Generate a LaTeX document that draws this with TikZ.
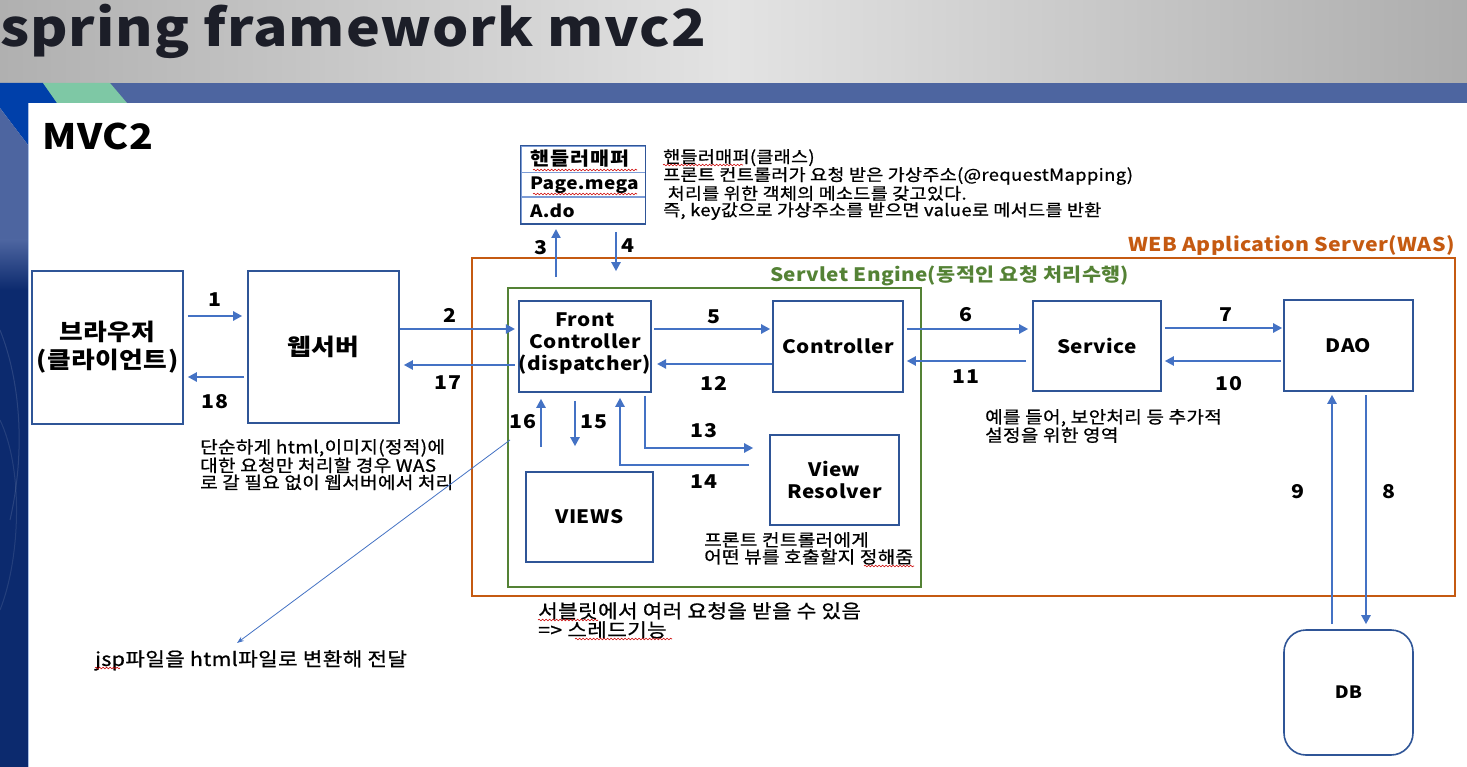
\documentclass[tikz,border=0pt]{standalone}
\usepackage{fontspec}
\setmainfont{Noto Sans CJK KR}[FakeStretch=1.12,LetterSpace=2]
\newfontfamily\notefont{Noto Sans CJK KR}[FakeStretch=1.12,LetterSpace=2,FakeBold=0.8]
\usetikzlibrary{arrows.meta,positioning,calc,decorations.pathmorphing}
\definecolor{boxblue}{RGB}{47,85,151}
\definecolor{arrblue}{RGB}{68,114,196}
\definecolor{wasorange}{RGB}{197,90,17}
\definecolor{engreen}{RGB}{84,130,53}
\definecolor{bandblue}{RGB}{77,101,160}
\definecolor{deepblue}{RGB}{0,64,170}
\definecolor{navyblue}{RGB}{12,42,110}
\definecolor{mint}{RGB}{126,200,165}
\definecolor{titleink}{RGB}{28,30,40}
\tikzset{
  blk/.style={draw=boxblue,line width=1.6pt,fill=white,align=center,inner sep=0pt,
    font=\bfseries\fontsize{18.5}{22}\selectfont},
  row/.style={draw=arrblue!70,line width=0.8pt,minimum width=124pt,text width=106pt,
    align=left,inner sep=0pt,font=\bfseries\fontsize{17}{17}\selectfont},
  arr/.style={draw=arrblue,line width=2.5pt,-{Triangle[length=9pt,width=9pt]}},
  num/.style={inner sep=0pt,font=\bfseries\fontsize{19}{19}\selectfont},
  note/.style={anchor=north west,align=left,inner sep=0pt,font=\notefont\fontsize{16.5}{16.5}\selectfont},
  squig/.style={draw=red!80!black,line width=0.6pt,decorate,
    decoration={snake,amplitude=0.8pt,segment length=3.5pt}},
}

\begin{document}
\begin{tikzpicture}[x=1pt,y=-1pt]
\useasboundingbox (0,0) rectangle (1467,767);
% slide background
\shade[left color=gray!62,right color=gray!64,middle color=gray!22] (0,0) rectangle (1467,83);
\fill[bandblue] (0,83) rectangle (1467,103);
\fill[deepblue] (0,83) -- (43,83) -- (57,103) -- (28,103) -- (28,145) -- (0,108) -- cycle;
\fill[mint] (43,83) -- (110,83) -- (127,103) -- (57,103) -- cycle;
\fill[bandblue] (0,108) -- (28,145) -- (28,240) -- (0,240) -- cycle;
\shade[top color=bandblue,bottom color=navyblue] (0,240) rectangle (28,290);
\fill[navyblue] (0,290) rectangle (28,767);
\draw[white,opacity=0.12,line width=1pt] (0,330) .. controls (20,380) and (26,450) .. (10,520);
\draw[white,opacity=0.10,line width=1pt] (0,420) .. controls (24,470) and (20,560) .. (0,610);
\fill[white] (28,103) rectangle (1467,767);
\draw[arrblue!45,line width=0.8pt] (28,103) -- (28,767);

% titles
\node[anchor=base west,inner sep=0pt,text=titleink,font=\bfseries\fontsize{51}{51}\selectfont]
  (ttl) at (0,47) {spring framework mvc2};
\node[anchor=base west,inner sep=0pt,font=\bfseries\fontsize{35}{35}\selectfont]
  (mvc) at (42,150) {MVC2};

% WAS and servlet engine
\node[draw=wasorange,line width=1.8pt,minimum width=983pt,minimum height=338pt] (was) at (963.5,427) {};
\node[anchor=base east,inner sep=0pt,text=wasorange,font=\bfseries\fontsize{19}{19}\selectfont]
  (waslbl) at (1455,252) {WEB Application Server(WAS)};
\node[draw=engreen,line width=1.8pt,minimum width=413pt,minimum height=299pt] (eng) at (714.5,437.5) {};
\node[anchor=base west,inner sep=0pt,text=engreen,font=\bfseries\fontsize{18.5}{18.5}\selectfont]
  (englbl) at (770,282) {Servlet Engine(동적인 요청 처리수행)};

% boxes
\node[blk,minimum width=151pt,minimum height=153pt,font=\bfseries\fontsize{23}{28}\selectfont]
  (browser) at (107.5,347.5) {브라우저\\(클라이언트)};
\node[blk,minimum width=151pt,minimum height=152pt,font=\bfseries\fontsize{23}{28}\selectfont]
  (websrv) at (323.5,347) {웹서버};
\node[blk,minimum width=128pt,minimum height=91pt] (front) at (585,346.5) {Front\\Controller\\(dispatcher)\\[-12pt]};
\node[blk,minimum width=130pt,minimum height=91pt] (ctrl) at (838,346.5) {Controller};
\node[blk,minimum width=128pt,minimum height=90pt] (service) at (1097,346) {Service};
\node[blk,minimum width=129pt,minimum height=91pt] (dao) at (1348.5,345.5) {DAO};
\node[blk,minimum width=129pt,minimum height=90pt] (resolver) at (834.5,480) {View\\Resolver};
\node[blk,minimum width=127pt,minimum height=90pt] (views) at (589.5,517) {VIEWS};
\node[blk,minimum width=129pt,minimum height=125pt,rounded corners=22pt,font=\bfseries\fontsize{17}{17}\selectfont]
  (db) at (1348.5,692.5) {DB};

% handler mapper table
\node[row,minimum height=26pt,font=\bfseries\fontsize{18.5}{18.5}\selectfont\addfontfeatures{LetterSpace=6}]
  (hm1) at (583,159) {핸들러매퍼};
\node[row,minimum height=24pt,below=0pt of hm1] (hm2) {Page.mega};
\node[row,minimum height=26pt,below=0pt of hm2] (hm3) {A.do};
\draw[boxblue,line width=1.6pt] (hm1.north west) rectangle (hm3.south east);

% request / response flow
\draw[arr] ([xshift=4pt,yshift=31.5pt]browser.east) -- ([xshift=-5pt,yshift=31pt]websrv.west);
\draw[arr] ([xshift=-3pt,yshift=-30pt]websrv.west) -- ([xshift=4pt,yshift=-29.5pt]browser.east);
\draw[arr] ([yshift=18pt]websrv.east) -- ([xshift=-3pt,yshift=17.5pt]front.west);
\draw[arr] ([xshift=-3pt,yshift=-18.5pt]front.west) -- ([xshift=4pt,yshift=-18pt]websrv.east);
\draw[arr] ([xshift=-29pt,yshift=23pt]front.north) -- ([xshift=-27pt,yshift=-5pt]hm3.south);
\draw[arr] ([xshift=33pt,yshift=-8pt]hm3.south) -- ([xshift=31pt,yshift=29pt]front.north);
\draw[arr] ([xshift=2pt,yshift=17.5pt]front.east) -- ([xshift=-2pt,yshift=17.5pt]ctrl.west);
\draw[arr] ([yshift=-17.5pt]ctrl.west) -- ([xshift=5pt,yshift=-17.5pt]front.east);
\draw[arr] ([xshift=3pt,yshift=17.5pt]ctrl.east) -- ([xshift=-4pt,yshift=17pt]service.west);
\draw[arr] ([xshift=-6pt,yshift=-15pt]service.west) -- ([xshift=3pt,yshift=-14.5pt]ctrl.east);
\draw[arr] ([xshift=3pt,yshift=18pt]service.east) -- ([xshift=-1pt,yshift=17.5pt]dao.west);
\draw[arr] ([xshift=-2pt,yshift=-15.5pt]dao.west) -- ([xshift=3pt,yshift=-15pt]service.east);
\draw[arr] ([xshift=-16.5pt,yshift=5pt]db.north) -- ([xshift=-16.5pt,yshift=-3pt]dao.south);
\draw[arr] ([xshift=17.5pt,yshift=-3pt]dao.south) -- ([xshift=17.5pt,yshift=5pt]db.north);
\draw[arr] ([xshift=-44pt,yshift=-54pt]front.south) -- ([xshift=-44pt,yshift=-6pt]front.south);
\draw[arr] ([xshift=-10pt,yshift=-8pt]front.south) -- ([xshift=-14.5pt,yshift=25pt]views.north);
\draw[arr] ([xshift=60pt,yshift=-3pt]front.south) |- ([xshift=-16pt,yshift=32pt]resolver.west);
\draw[arr] ([xshift=-20pt,yshift=15pt]resolver.west) -| ([xshift=35pt,yshift=-5pt]front.south);

% step numbers
\node[num] at (215,300) {1};
\node[num] at (450,315) {2};
\node[num] at (541,248) {3};
\node[num] at (628,246) {4};
\node[num] at (714,317) {5};
\node[num] at (966,315) {6};
\node[num] at (1226,315) {7};
\node[num] at (1389,492) {8};
\node[num] at (1298,492) {9};
\node[num] at (1229,384) {10};
\node[num] at (966,377) {11};
\node[num] at (714,383) {12};
\node[num] at (704,431) {13};
\node[num] at (704,482) {14};
\node[num] at (594,422) {15};
\node[num] at (523,422) {16};
\node[num] at (448,383) {17};
\node[num] at (215,402) {18};

% notes
\node[note] (hmnote) at (663,149) {핸들러매퍼(클래스)\\프론트 컨트롤러가 요청 받은 가상주소(@requestMapping)\\
  \ 처리를 위한 객체의 메소드를 갖고있다.\\즉, key값으로 가상주소를 받으면 value로 메서드를 반환};
\node[note,font=\notefont\fontsize{17}{17}\selectfont] (wsnote) at (200,439) {단순하게 html,이미지(정적)에\\대한 요청만 처리할 경우 WAS\\로 갈 필요 없이 웹서버에서 처리};
\node[note,font=\notefont\fontsize{17}{17}\selectfont] (svnote) at (985,409) {예를 들어, 보안처리 등 추가적\\설정을 위한 영역};
\node[note,font=\notefont\fontsize{17}{17}\selectfont] (vrnote) at (704,532) {프론트 컨트롤러에게\\어떤 뷰를 호출할지 정해줌};
\node[note,font=\notefont\fontsize{19}{19}\selectfont] (thnote) at (538,602) {서블릿에서 여러 요청을 받을 수 있음\\=> 스레드기능};
\node[note,font=\notefont\fontsize{19}{19}\selectfont] (jsp) at (95,650) {jsp파일을 html파일로 변환해 전달};

% jsp hint line
\coordinate (jspsrc) at (510,440);
\draw[arrblue,line width=0.8pt,-{Stealth[length=7pt,width=5pt]}] (jspsrc) -- ([xshift=142pt,yshift=7pt]jsp.north west);

% spell-check marks
\draw[squig] (533,170) -- (637,170);
\draw[squig] (533,194) -- (637,194);
\draw[squig] (663,165) -- (743,165);
\draw[squig] (864,566) -- (914,566);
\draw[squig] (538,620) -- (598,620);
\draw[squig] (575,639) -- (672,639);
\draw[squig] (95,668) -- (120,668);
\end{tikzpicture}
\end{document}
